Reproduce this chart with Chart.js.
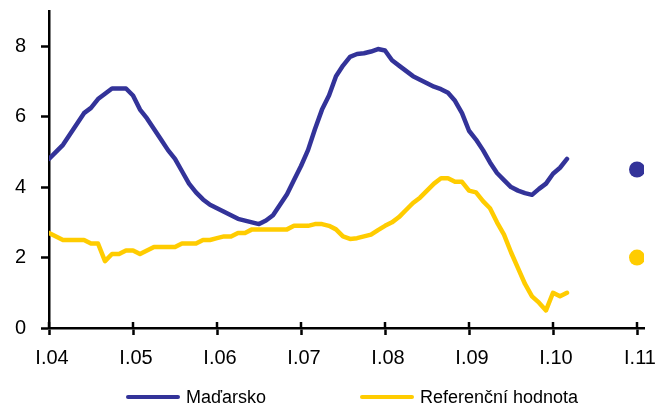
<!DOCTYPE html>
<html>
<head>
<meta charset="utf-8">
<script src="https://cdn.jsdelivr.net/npm/chart.js@4"></script>
<style>
    html, body { margin: 0; padding: 0; background: #fff; }
    #wrap { position: relative; width: 660px; height: 408px; }
    #legend { position: absolute; left: 0; top: 386px; width: 660px; height: 22px;
              font: 18px "Liberation Sans", Arial, sans-serif; color: #000; }
    .item { position: absolute; top: 0; height: 22px; display: flex; align-items: center; white-space: nowrap; }
    .swatch { display: inline-block; width: 54px; height: 4px; border-radius: 2px; margin-right: 6px; }
</style>
</head>
<body>
<div id="wrap">
    <canvas id="myChart" width="660" height="408"></canvas>
    <div id="legend"></div>
</div>
<script>
// Tick labels on the x axis (one per January)
const tickLabels = ["I.04", "I.05", "I.06", "I.07", "I.08", "I.09", "I.10", "I.11"];
const yTicks = [0, 2, 4, 6, 8];

// Monthly values from I.04
const madarsko = [
    4.8, 5.0, 5.2, 5.5, 5.8, 6.1, 6.25, 6.5, 6.65, 6.8, 6.8, 6.8,
    6.6, 6.2, 5.95, 5.65, 5.35, 5.05, 4.8, 4.45, 4.1, 3.85, 3.65, 3.5,
    3.4, 3.3, 3.2, 3.1, 3.05, 3.0, 2.95, 3.05, 3.2, 3.5, 3.8, 4.2,
    4.6, 5.05, 5.65, 6.2, 6.6, 7.15, 7.45, 7.7, 7.78, 7.8, 7.85, 7.92,
    7.88, 7.6, 7.45, 7.3, 7.15, 7.05, 6.95, 6.85, 6.78, 6.68, 6.45, 6.1,
    5.6, 5.35, 5.05, 4.7, 4.4, 4.2, 4.0, 3.9, 3.83, 3.78, 3.95, 4.1,
    4.38, 4.55, 4.8
];
const referencni = [
    2.7, 2.6, 2.5, 2.5, 2.5, 2.5, 2.4, 2.4, 1.9, 2.1, 2.1, 2.2,
    2.2, 2.1, 2.2, 2.3, 2.3, 2.3, 2.3, 2.4, 2.4, 2.4, 2.5, 2.5,
    2.55, 2.6, 2.6, 2.7, 2.7, 2.8, 2.8, 2.8, 2.8, 2.8, 2.8, 2.9,
    2.9, 2.9, 2.95, 2.95, 2.9, 2.8, 2.6, 2.53, 2.55, 2.6, 2.65, 2.78,
    2.9, 3.0, 3.15, 3.35, 3.55, 3.7, 3.9, 4.1, 4.25, 4.25, 4.15, 4.15,
    3.9, 3.85, 3.6, 3.4, 3.0, 2.65, 2.15, 1.7, 1.25, 0.9, 0.72, 0.5,
    1.0, 0.9, 1.0
];

// Single points at I.11
const prognozaMesic = 84;
const prognozaMadarsko = 4.5;
const prognozaReferencni = 2.0;

const seriesNames = ["Maďarsko", "Referenční hodnota"];
const colors = ["#333399", "#FFCC00"];
const fontFamily = '"Liberation Sans", Arial, sans-serif';

function toPoints(arr) {
    return arr.map((v, i) => ({ x: i, y: v }));
}

// Tick marks that also cross into the plot above the x axis
const crossTicks = {
    id: "crossTicks",
    beforeDatasetsDraw(chart) {
        const sx = chart.scales.x;
        const ctx = chart.ctx;
        ctx.save();
        ctx.strokeStyle = "#000";
        ctx.lineWidth = 2.5;
        sx.ticks.forEach(t => {
            const px = sx.getPixelForValue(t.value);
            ctx.beginPath();
            ctx.moveTo(px, sx.top);
            ctx.lineTo(px, sx.top - 6);
            ctx.stroke();
        });
        ctx.restore();
    }
};

function lineSet(label, values, color) {
    return {
        label: label,
        data: toPoints(values),
        borderColor: color,
        backgroundColor: color,
        borderWidth: 4.5,
        pointRadius: 0,
        tension: 0,
        borderJoinStyle: "round",
        borderCapStyle: "round",
    };
}

function dotSet(label, value, color) {
    return {
        label: label,
        data: [{ x: prognozaMesic, y: value }],
        showLine: false,
        pointRadius: 8,
        pointBackgroundColor: color,
        pointBorderWidth: 0,
        borderColor: color,
    };
}

const ctx = document.getElementById("myChart");
new Chart(ctx, {
    type: "line",
    data: {
        datasets: [
            lineSet(seriesNames[0], madarsko, colors[0]),
            lineSet(seriesNames[1], referencni, colors[1]),
            dotSet(seriesNames[0], prognozaMadarsko, colors[0]),
            dotSet(seriesNames[1], prognozaReferencni, colors[1]),
        ],
    },
    options: {
        responsive: false,
        animation: false,
        layout: { padding: { top: 11, right: 16, bottom: 38, left: 0 } },
        plugins: {
            legend: { display: false },
            tooltip: { enabled: false },
        },
        scales: {
            x: {
                type: "linear",
                min: 0,
                max: 85,
                afterBuildTicks: s => { s.ticks = tickLabels.map((t, i) => ({ value: i * 12 })); },
                afterFit: s => { s.height = 42; s.paddingLeft = 0; s.paddingRight = 0; },
                grid: { drawOnChartArea: false, tickLength: 7, tickWidth: 2.5, tickColor: "#000" },
                border: { color: "#000", width: 2.5 },
                ticks: {
                    callback: v => tickLabels[Math.round(v / 12)],
                    font: { size: 20, family: fontFamily },
                    color: "#000",
                    padding: 11,
                    labelOffset: 3,
                    maxRotation: 0,
                    autoSkip: false,
                },
            },
            y: {
                min: 0,
                max: 9,
                afterBuildTicks: s => { s.ticks = yTicks.map(v => ({ value: v })); },
                afterFit: s => { s.width = 49; s.paddingTop = 0; s.paddingBottom = 0; },
                grid: { drawOnChartArea: false, tickLength: 8, tickWidth: 2.5, tickColor: "#000" },
                border: { color: "#000", width: 2.5 },
                ticks: {
                    font: { size: 20, family: fontFamily },
                    color: "#000",
                    padding: 15,
                },
            },
        },
    },
    plugins: [crossTicks],
});

// Legend below the chart
const legend = document.getElementById("legend");
const legendLeft = [126, 360];
seriesNames.forEach((name, i) => {
    const item = document.createElement("div");
    item.className = "item";
    item.style.left = legendLeft[i] + "px";
    item.innerHTML = '<span class="swatch" style="background:' + colors[i] + '"></span>' + name;
    legend.appendChild(item);
});
</script>
</body>
</html>
